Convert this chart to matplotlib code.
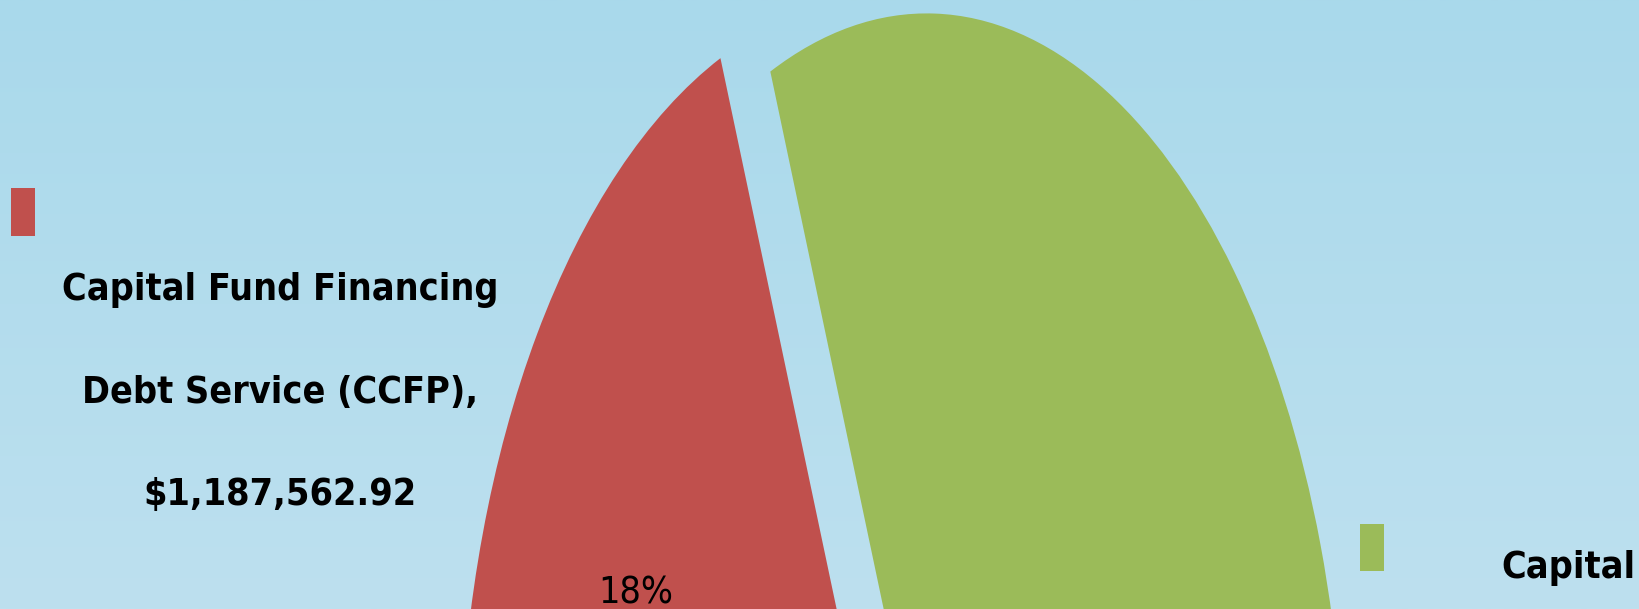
import numpy as np
import matplotlib
matplotlib.use("Agg")
import matplotlib.pyplot as plt
from matplotlib import font_manager
from matplotlib.patches import Rectangle

# slices, clockwise from the start angle
SLICE_NAMES = ["Other", "Capital Fund Financing Debt Service (CCFP)", "Capital Fund Program"]
SLICE_VALUES = [2025500.00, 1187562.92, 3384600.00]
SLICE_COLORS = ["#4F81BD", "#C0504D", "#9BBB59"]
SHOW_PCT = [False, True, False]

LEFT_LABEL = ["Capital Fund Financing", "Debt Service (CCFP),", "$1,187,562.92"]
RIGHT_LABEL = ["Capital"]

W, H = 1639, 609
# pie centre / radii in pixels (the chart is stretched vertically)
CX, CY, RX, RY = 900.0, 831.7, 418.0, 800.0

names = {f.name for f in font_manager.fontManager.ttflist}
if "Liberation Sans Narrow" in names:
    FAMILY, STRETCH, FS = ["Liberation Sans Narrow", "DejaVu Sans"], "normal", 36
else:
    FAMILY, STRETCH, FS = ["DejaVu Sans"], "condensed", 27


def px(x, y):
    return x / W, 1 - y / H


fig = plt.figure(figsize=(W / 100, H / 100), dpi=100)

bg = fig.add_axes([0, 0, 1, 1])
top = np.array([169, 217, 235]) / 255
bot = np.array([189, 224, 239]) / 255
t = np.linspace(0, 1, 256)[:, None]
grad = (top * (1 - t) + bot * t)[:, None, :]
bg.imshow(grad, aspect="auto", extent=[0, 1, 0, 1])
bg.axis("off")

ax = fig.add_axes([0, 0, 1, 1])
ax.patch.set_alpha(0)
wedges, texts, autotexts = ax.pie(
    SLICE_VALUES,
    colors=SLICE_COLORS,
    explode=[0.068] * len(SLICE_VALUES),
    startangle=287.3,
    counterclock=False,
    autopct=lambda p: f"{p:.0f}%",
    pctdistance=0.6,
    wedgeprops=dict(linewidth=0),
    textprops=dict(color="black", fontsize=FS, family=FAMILY, fontstretch=STRETCH),
)
for at, show in zip(autotexts, SHOW_PCT):
    at.set_visible(show)
autotexts[1].set_position(((636 - CX) / RX, (CY - 604) / RY))
autotexts[1].set_va("baseline")

ax.set_aspect("auto")
ax.set_xlim((0 - CX) / RX, (W - CX) / RX)
ax.set_ylim((CY - H) / RY, CY / RY)
ax.axis("off")

# data-label legend keys
fig.patches.append(Rectangle(px(11, 236), 24 / W, 48 / H, transform=fig.transFigure,
                             facecolor=SLICE_COLORS[1], edgecolor="none"))
fig.patches.append(Rectangle(px(1360, 571), 24 / W, 47 / H, transform=fig.transFigure,
                             facecolor=SLICE_COLORS[2], edgecolor="none"))

kw = dict(ha="center", va="baseline", fontsize=FS, fontweight="bold",
          family=FAMILY, fontstretch=STRETCH, color="black")
for line, base in zip(LEFT_LABEL, [300, 403, 505]):
    fig.text(*px(280, base), line, **kw)
for line, base in zip(RIGHT_LABEL, [578]):
    fig.text(*px(1568, base), line, **kw)

fig.savefig("out.png", dpi=100)
